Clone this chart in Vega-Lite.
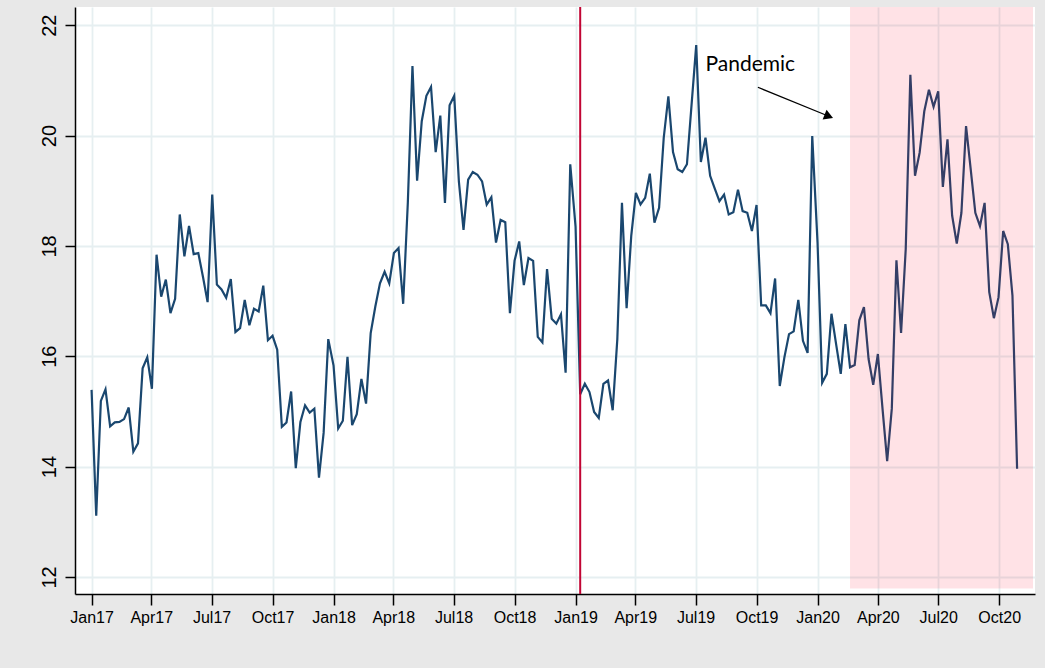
{
  "$schema": "https://vega.github.io/schema/vega-lite/v6.json",
  "autosize": "none",
  "width": 960,
  "height": 587,
  "padding": {"left": 75, "top": 7, "right": 10, "bottom": 74},
  "background": "#e8e8e8",
  "view": {"fill": "white", "stroke": null},
  "config": {
    "axis": {
      "domainColor": "black", "domainWidth": 1.5,
      "tickColor": "black", "tickWidth": 1.5,
      "gridColor": "#e6eff1", "gridWidth": 1.8,
      "labelFont": "Liberation Sans", "labelColor": "black",
      "title": null
    }
  },
  "datasets": {
    "series": [
      {"date": "2017-01-01", "value": 15.39}, {"date": "2017-01-08", "value": 13.11}, {"date": "2017-01-15", "value": 15.19}, {"date": "2017-01-22", "value": 15.40},
      {"date": "2017-01-29", "value": 14.73}, {"date": "2017-02-05", "value": 14.80}, {"date": "2017-02-12", "value": 14.81}, {"date": "2017-02-19", "value": 14.86},
      {"date": "2017-02-26", "value": 15.07}, {"date": "2017-03-05", "value": 14.27}, {"date": "2017-03-12", "value": 14.42}, {"date": "2017-03-19", "value": 15.78},
      {"date": "2017-03-26", "value": 15.98}, {"date": "2017-04-02", "value": 15.41}, {"date": "2017-04-09", "value": 17.84}, {"date": "2017-04-16", "value": 17.08},
      {"date": "2017-04-23", "value": 17.39}, {"date": "2017-04-30", "value": 16.78}, {"date": "2017-05-07", "value": 17.04}, {"date": "2017-05-14", "value": 18.57},
      {"date": "2017-05-21", "value": 17.81}, {"date": "2017-05-28", "value": 18.36}, {"date": "2017-06-04", "value": 17.85}, {"date": "2017-06-11", "value": 17.87},
      {"date": "2017-06-18", "value": 17.44}, {"date": "2017-06-25", "value": 16.98}, {"date": "2017-07-02", "value": 18.93}, {"date": "2017-07-09", "value": 17.30},
      {"date": "2017-07-16", "value": 17.21}, {"date": "2017-07-23", "value": 17.06}, {"date": "2017-07-30", "value": 17.40}, {"date": "2017-08-06", "value": 16.44},
      {"date": "2017-08-13", "value": 16.51}, {"date": "2017-08-20", "value": 17.02}, {"date": "2017-08-27", "value": 16.56}, {"date": "2017-09-03", "value": 16.86},
      {"date": "2017-09-10", "value": 16.81}, {"date": "2017-09-17", "value": 17.28}, {"date": "2017-09-24", "value": 16.29}, {"date": "2017-10-01", "value": 16.37},
      {"date": "2017-10-08", "value": 16.12}, {"date": "2017-10-15", "value": 14.72}, {"date": "2017-10-22", "value": 14.80}, {"date": "2017-10-29", "value": 15.36},
      {"date": "2017-11-05", "value": 13.97}, {"date": "2017-11-12", "value": 14.81}, {"date": "2017-11-19", "value": 15.11}, {"date": "2017-11-26", "value": 14.98},
      {"date": "2017-12-03", "value": 15.05}, {"date": "2017-12-10", "value": 13.80}, {"date": "2017-12-17", "value": 14.61}, {"date": "2017-12-24", "value": 16.31},
      {"date": "2018-01-01", "value": 15.83}, {"date": "2018-01-08", "value": 14.69}, {"date": "2018-01-15", "value": 14.83}, {"date": "2018-01-22", "value": 15.99},
      {"date": "2018-01-29", "value": 14.75}, {"date": "2018-02-05", "value": 14.95}, {"date": "2018-02-12", "value": 15.59}, {"date": "2018-02-19", "value": 15.14},
      {"date": "2018-02-26", "value": 16.42}, {"date": "2018-03-05", "value": 16.90}, {"date": "2018-03-12", "value": 17.32}, {"date": "2018-03-19", "value": 17.53},
      {"date": "2018-03-26", "value": 17.32}, {"date": "2018-04-02", "value": 17.87}, {"date": "2018-04-09", "value": 17.96}, {"date": "2018-04-16", "value": 16.95},
      {"date": "2018-04-23", "value": 18.78}, {"date": "2018-04-30", "value": 21.26}, {"date": "2018-05-07", "value": 19.18}, {"date": "2018-05-14", "value": 20.26},
      {"date": "2018-05-21", "value": 20.72}, {"date": "2018-05-28", "value": 20.88}, {"date": "2018-06-04", "value": 19.70}, {"date": "2018-06-11", "value": 20.36},
      {"date": "2018-06-18", "value": 18.78}, {"date": "2018-06-25", "value": 20.55}, {"date": "2018-07-02", "value": 20.72}, {"date": "2018-07-09", "value": 19.17},
      {"date": "2018-07-16", "value": 18.29}, {"date": "2018-07-23", "value": 19.20}, {"date": "2018-07-30", "value": 19.34}, {"date": "2018-08-06", "value": 19.29},
      {"date": "2018-08-13", "value": 19.17}, {"date": "2018-08-20", "value": 18.75}, {"date": "2018-08-27", "value": 18.88}, {"date": "2018-09-03", "value": 18.06},
      {"date": "2018-09-10", "value": 18.47}, {"date": "2018-09-17", "value": 18.43}, {"date": "2018-09-24", "value": 16.78}, {"date": "2018-10-01", "value": 17.73},
      {"date": "2018-10-08", "value": 18.08}, {"date": "2018-10-15", "value": 17.29}, {"date": "2018-10-22", "value": 17.78}, {"date": "2018-10-29", "value": 17.73},
      {"date": "2018-11-05", "value": 16.35}, {"date": "2018-11-12", "value": 16.25}, {"date": "2018-11-19", "value": 17.58}, {"date": "2018-11-26", "value": 16.68},
      {"date": "2018-12-03", "value": 16.59}, {"date": "2018-12-10", "value": 16.76}, {"date": "2018-12-17", "value": 15.70}, {"date": "2018-12-24", "value": 19.48},
      {"date": "2019-01-01", "value": 18.35}, {"date": "2019-01-08", "value": 15.31}, {"date": "2019-01-15", "value": 15.50}, {"date": "2019-01-22", "value": 15.35},
      {"date": "2019-01-29", "value": 14.99}, {"date": "2019-02-05", "value": 14.88}, {"date": "2019-02-12", "value": 15.50}, {"date": "2019-02-19", "value": 15.56},
      {"date": "2019-02-26", "value": 15.02}, {"date": "2019-03-05", "value": 16.31}, {"date": "2019-03-12", "value": 18.78}, {"date": "2019-03-19", "value": 16.87},
      {"date": "2019-03-26", "value": 18.18}, {"date": "2019-04-02", "value": 18.96}, {"date": "2019-04-09", "value": 18.75}, {"date": "2019-04-16", "value": 18.87},
      {"date": "2019-04-23", "value": 19.31}, {"date": "2019-04-30", "value": 18.42}, {"date": "2019-05-07", "value": 18.69}, {"date": "2019-05-14", "value": 19.96},
      {"date": "2019-05-21", "value": 20.71}, {"date": "2019-05-28", "value": 19.70}, {"date": "2019-06-04", "value": 19.39}, {"date": "2019-06-11", "value": 19.34},
      {"date": "2019-06-18", "value": 19.48}, {"date": "2019-06-25", "value": 20.56}, {"date": "2019-07-02", "value": 21.64}, {"date": "2019-07-09", "value": 19.52},
      {"date": "2019-07-16", "value": 19.96}, {"date": "2019-07-23", "value": 19.27}, {"date": "2019-07-30", "value": 19.04}, {"date": "2019-08-06", "value": 18.81},
      {"date": "2019-08-13", "value": 18.93}, {"date": "2019-08-20", "value": 18.57}, {"date": "2019-08-27", "value": 18.61}, {"date": "2019-09-03", "value": 19.02},
      {"date": "2019-09-10", "value": 18.63}, {"date": "2019-09-17", "value": 18.60}, {"date": "2019-09-24", "value": 18.27}, {"date": "2019-10-01", "value": 18.74},
      {"date": "2019-10-08", "value": 16.92}, {"date": "2019-10-15", "value": 16.92}, {"date": "2019-10-22", "value": 16.78}, {"date": "2019-10-29", "value": 17.41},
      {"date": "2019-11-05", "value": 15.46}, {"date": "2019-11-12", "value": 15.98}, {"date": "2019-11-19", "value": 16.40}, {"date": "2019-11-26", "value": 16.45},
      {"date": "2019-12-03", "value": 17.02}, {"date": "2019-12-10", "value": 16.28}, {"date": "2019-12-17", "value": 16.06}, {"date": "2019-12-24", "value": 19.99},
      {"date": "2020-01-01", "value": 18.06}, {"date": "2020-01-08", "value": 15.52}, {"date": "2020-01-15", "value": 15.68}, {"date": "2020-01-22", "value": 16.77},
      {"date": "2020-01-29", "value": 16.22}, {"date": "2020-02-05", "value": 15.68}, {"date": "2020-02-12", "value": 16.58}, {"date": "2020-02-19", "value": 15.80},
      {"date": "2020-02-26", "value": 15.84}, {"date": "2020-03-04", "value": 16.65}, {"date": "2020-03-11", "value": 16.89}, {"date": "2020-03-18", "value": 15.95},
      {"date": "2020-03-25", "value": 15.48}, {"date": "2020-04-01", "value": 16.04}, {"date": "2020-04-08", "value": 15.05}, {"date": "2020-04-15", "value": 14.10},
      {"date": "2020-04-22", "value": 15.05}, {"date": "2020-04-29", "value": 17.74}, {"date": "2020-05-06", "value": 16.42}, {"date": "2020-05-13", "value": 17.94},
      {"date": "2020-05-20", "value": 21.10}, {"date": "2020-05-27", "value": 19.27}, {"date": "2020-06-03", "value": 19.69}, {"date": "2020-06-10", "value": 20.44},
      {"date": "2020-06-17", "value": 20.83}, {"date": "2020-06-24", "value": 20.52}, {"date": "2020-07-01", "value": 20.80}, {"date": "2020-07-08", "value": 19.07},
      {"date": "2020-07-15", "value": 19.93}, {"date": "2020-07-22", "value": 18.55}, {"date": "2020-07-29", "value": 18.04}, {"date": "2020-08-05", "value": 18.60},
      {"date": "2020-08-12", "value": 20.17}, {"date": "2020-08-19", "value": 19.39}, {"date": "2020-08-26", "value": 18.60}, {"date": "2020-09-02", "value": 18.36},
      {"date": "2020-09-09", "value": 18.78}, {"date": "2020-09-16", "value": 17.16}, {"date": "2020-09-23", "value": 16.69}, {"date": "2020-09-30", "value": 17.07},
      {"date": "2020-10-07", "value": 18.27}, {"date": "2020-10-14", "value": 18.03}, {"date": "2020-10-21", "value": 17.10}, {"date": "2020-10-28", "value": 13.96}
    ],
    "marker": [{"date": "2019-01-08"}],
    "pandemic": [{"start": "2020-02-19", "end": "2020-11-21", "low": 11.79, "high": 22.33}],
    "arrow": [{"x": "2019-10-03", "y": 20.875, "x2": "2020-01-18", "y2": 20.35}],
    "label": [{"x": "2019-07-16", "y": 21.165, "text": "Pandemic"}]
  },
  "layer": [
    {
      "data": {"name": "series"},
      "mark": {"type": "line", "color": "#1a476f", "strokeWidth": 2.2, "clip": true},
      "encoding": {
        "x": {
          "field": "date", "type": "temporal",
          "scale": {"type": "utc", "domain": [{"year": 2016, "month": 12, "date": 7, "utc": true}, {"year": 2020, "month": 11, "date": 24, "utc": true}]},
          "axis": {
            "format": "%b%y", "tickCount": {"interval": "month", "step": 3},
            "labelFontSize": 16, "tickSize": 11, "labelPadding": 4, "labelAngle": 0,
            "labelAlign": "center", "labelOverlap": false, "labelFlush": false
          }
        },
        "y": {
          "field": "value", "type": "quantitative",
          "scale": {"domain": [11.69, 22.33], "nice": false, "zero": false},
          "axis": {
            "values": [12, 14, 16, 18, 20, 22], "labelFontSize": 20, "tickSize": 10,
            "labelAngle": -90, "labelAlign": "center", "labelBaseline": "alphabetic", "labelPadding": 10
          }
        }
      }
    },
    {
      "data": {"name": "marker"},
      "mark": {"type": "rule", "color": "#c10534", "strokeWidth": 2},
      "encoding": {
        "x": {"field": "date", "type": "temporal", "scale": {"type": "utc"}}
      }
    },
    {
      "data": {"name": "pandemic"},
      "mark": {"type": "rect", "color": "#ff0022", "opacity": 0.115},
      "encoding": {
        "x": {"field": "start", "type": "temporal", "scale": {"type": "utc"}},
        "x2": {"field": "end"},
        "y": {"field": "low", "type": "quantitative"},
        "y2": {"field": "high"}
      }
    },
    {
      "data": {"name": "arrow"},
      "mark": {"type": "rule", "color": "black", "strokeWidth": 1.3},
      "encoding": {
        "x": {"field": "x", "type": "temporal", "scale": {"type": "utc"}},
        "x2": {"field": "x2"},
        "y": {"field": "y", "type": "quantitative"},
        "y2": {"field": "y2"}
      }
    },
    {
      "data": {"name": "arrow"},
      "mark": {"type": "point", "shape": "triangle-right", "filled": true, "color": "black", "opacity": 1, "size": 110, "angle": 22},
      "encoding": {
        "x": {"field": "x2", "type": "temporal", "scale": {"type": "utc"}},
        "y": {"field": "y2", "type": "quantitative"}
      }
    },
    {
      "data": {"name": "label"},
      "mark": {"type": "text", "font": "Lato", "fontSize": 21, "color": "black", "align": "left", "baseline": "alphabetic"},
      "encoding": {
        "x": {"field": "x", "type": "temporal", "scale": {"type": "utc"}},
        "y": {"field": "y", "type": "quantitative"},
        "text": {"field": "text"}
      }
    }
  ]
}
